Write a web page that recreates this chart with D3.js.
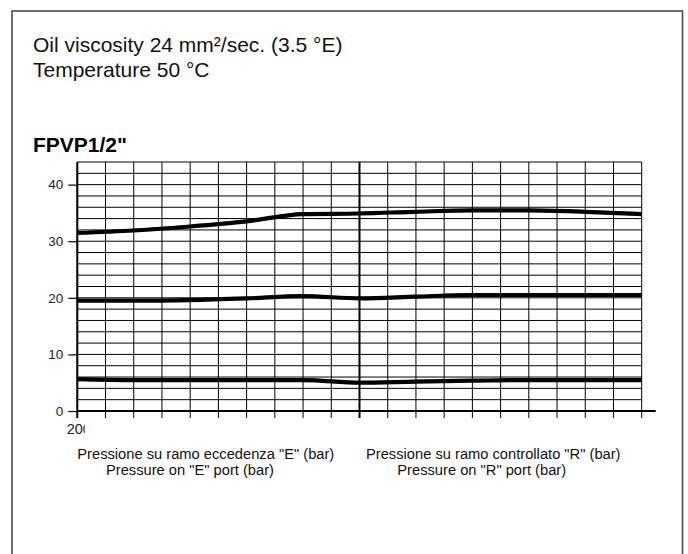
<!DOCTYPE html>
<html>
<head>
<meta charset="utf-8">
<script src="https://cdn.jsdelivr.net/npm/d3@7"></script>
<style>
  html, body { margin: 0; padding: 0; background: #fff; }
  svg { display: block; font-family: "Liberation Sans", Arial, sans-serif; }
</style>
</head>
<body>
<svg id="chart" width="688" height="554"></svg>
<script>
// ---- data ----
const xIndex      = [0, 2, 4, 6, 8, 10, 12, 14, 16, 18, 20];
const seriesHigh  = [31.45, 31.9, 32.6, 33.5, 34.8, 34.9, 35.2, 35.45, 35.45, 35.2, 34.8];
const seriesMid   = [19.5, 19.5, 19.6, 19.9, 20.3, 19.9, 20.2, 20.5, 20.5, 20.5, 20.5];
const seriesLow   = [5.64, 5.47, 5.47, 5.47, 5.47, 5.0, 5.2, 5.35, 5.47, 5.47, 5.47];
const yTickValues = [0, 10, 20, 30, 40];
const xTickLabel  = ["200"];
const titleLines  = ["Oil viscosity 24 mm\u00B2/sec. (3.5 \u00B0E)", "Temperature 50 \u00B0C"];
const modelName   = "FPVP1/2\"";
const axisLabelsE = ["Pressione su ramo eccedenza \"E\" (bar)", "Pressure on \"E\" port (bar)"];
const axisLabelsR = ["Pressione su ramo controllato \"R\" (bar)", "Pressure on \"R\" port (bar)"];

// ---- layout ----
const svg = d3.select("#chart");
const x = d3.scaleLinear().domain([0, 20]).range([77.3, 641.7]);
const y = d3.scaleLinear().domain([0, 44]).range([411, 162]);

// frame
svg.append("rect").attr("x", 12).attr("y", 11).attr("width", 670.5).attr("height", 600)
  .attr("fill", "none").attr("stroke", "#4a4a4a").attr("stroke-width", 1.6);

// title texts
svg.append("text").attr("x", 33).attr("y", 52).attr("font-size", 21).attr("fill", "#111").text(titleLines[0]);
svg.append("text").attr("x", 33).attr("y", 77).attr("font-size", 21).attr("fill", "#111").text(titleLines[1]);
svg.append("text").attr("x", 33).attr("y", 151.5).attr("font-size", 21).attr("font-weight", "bold").text(modelName);

// grid
const g = svg.append("g");
const hVals = d3.range(0, 45, 2);
g.selectAll("line.h").data(hVals).join("line")
  .attr("x1", x(0)).attr("x2", x(20))
  .attr("y1", d => y(d)).attr("y2", d => y(d))
  .attr("stroke", "#000").attr("stroke-width", 1);
const vVals = d3.range(0, 21, 1);
g.selectAll("line.v").data(vVals).join("line")
  .attr("x1", d => x(d)).attr("x2", d => x(d))
  .attr("y1", y(44)).attr("y2", y(0) + 7)
  .attr("stroke", "#000").attr("stroke-width", 1);

// heavy axes
g.append("line").attr("x1", x(0)).attr("x2", x(0)).attr("y1", y(44)).attr("y2", y(0) + 7)
  .attr("stroke", "#000").attr("stroke-width", 2);
g.append("line").attr("x1", x(10)).attr("x2", x(10)).attr("y1", y(44)).attr("y2", y(0) + 7)
  .attr("stroke", "#000").attr("stroke-width", 2);
g.append("line").attr("x1", x(0)).attr("x2", 655.7).attr("y1", y(0)).attr("y2", y(0))
  .attr("stroke", "#000").attr("stroke-width", 2);

// y axis ticks and labels
const yAxis = d3.axisLeft(y).tickValues(yTickValues).tickSize(9).tickPadding(5);
const ya = svg.append("g").attr("transform", `translate(${x(0)},0)`).call(yAxis);
ya.select(".domain").remove();
ya.selectAll(".tick line").attr("stroke", "#000").attr("stroke-width", 1.2);
ya.selectAll(".tick text").attr("font-size", 13.5).attr("fill", "#222")
  .attr("font-family", "Liberation Sans, Arial, sans-serif");

// x tick label (clipped)
svg.append("clipPath").attr("id", "xclip").append("rect")
  .attr("x", 60).attr("y", 415).attr("width", 24.8).attr("height", 25);
svg.append("text").attr("x", 66.7).attr("y", 433.5).attr("font-size", 14.5).attr("fill", "#222")
  .attr("clip-path", "url(#xclip)").text(xTickLabel[0]);

// axis titles
svg.append("text").attr("x", 77.3).attr("y", 458.5).attr("font-size", 14.7).attr("fill", "#111").text(axisLabelsE[0]);
svg.append("text").attr("x", 106).attr("y", 475).attr("font-size", 14.7).attr("fill", "#111").text(axisLabelsE[1]);
svg.append("text").attr("x", 366).attr("y", 458.5).attr("font-size", 14.7).attr("fill", "#111").text(axisLabelsR[0]);
svg.append("text").attr("x", 397.3).attr("y", 475).attr("font-size", 14.7).attr("fill", "#111").text(axisLabelsR[1]);

// curves
const line = d3.line().x((d, i) => x(xIndex[i])).y(d => y(d)).curve(d3.curveMonotoneX);
[seriesHigh, seriesMid, seriesLow].forEach(s => {
  svg.append("path").attr("d", line(s)).attr("fill", "none")
    .attr("stroke", "#000").attr("stroke-width", 4.2).attr("stroke-linejoin", "round");
  svg.append("path").attr("d", line(s.map(v => v + 0.2))).attr("fill", "none")
    .attr("stroke", "#000").attr("stroke-width", 1.2).attr("stroke-opacity", 0.5);
});
</script>
</body>
</html>
